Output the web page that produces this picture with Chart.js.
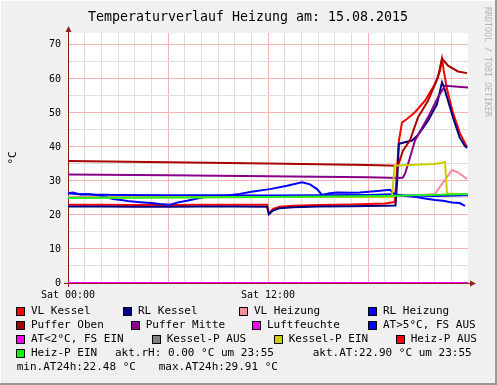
<!DOCTYPE html>
<html>
<head>
<meta charset="utf-8">
<script src="https://cdn.jsdelivr.net/npm/chart.js@4.4.1/dist/chart.umd.min.js"></script>
<style>
  html, body { margin: 0; padding: 0; background: #f0f0f0; }
  canvas { display: block; }
</style>
</head>
<body>
<canvas id="heizung" width="497" height="385"></canvas>
<script>
// Stunden ab Sat 00:00, Werte in °C
const vlKesselHours = [0, 2, 4, 6, 8, 10, 11.95, 12.05, 12.3, 12.7, 13.5, 15, 17, 19, 19.6, 19.7, 19.8, 19.86, 20.04, 20.34, 20.82, 21.42, 22.02, 22.32, 22.44, 22.56, 22.74, 23.1, 23.52, 23.94];
const vlKesselValues = [23.0, 23.0, 22.9, 22.9, 23.0, 23.0, 23.0, 20.5, 21.8, 22.4, 22.7, 22.9, 23.1, 23.4, 23.8, 30, 38, 42, 47.2, 48.2, 50.2, 53.6, 58.5, 62.4, 65.9, 62, 57, 50, 44, 40];

const rlKesselHours = [0, 2, 4, 6, 8, 10, 11.95, 12.05, 12.3, 12.7, 13.5, 15, 17, 19, 19.65, 19.75, 19.85, 20.22, 20.64, 21.0, 21.6, 22.14, 22.44, 22.56, 22.74, 23.1, 23.5, 23.8, 23.94];
const rlKesselValues = [22.5, 22.5, 22.4, 22.4, 22.5, 22.5, 22.4, 20.2, 21.3, 22.0, 22.3, 22.5, 22.6, 22.7, 22.8, 30, 40.9, 41.4, 41.9, 43.5, 47.7, 52.6, 59.0, 57.5, 54.6, 48.7, 42.8, 40.4, 39.7];

const vlHeizungHours = [0, 6, 12, 18, 21, 22.02, 22.5, 23.04, 23.4, 23.94];
const vlHeizungValues = [25.3, 25.3, 25.4, 25.5, 25.8, 26.2, 29.5, 33.2, 32.5, 30.6];

const rlHeizungHours = [0, 0.5, 1, 3, 6, 9, 12, 15, 18, 19.5, 20, 22, 24];
const rlHeizungValues = [26.4, 26.2, 26.0, 25.9, 25.8, 25.8, 25.7, 25.8, 25.9, 26.1, 25.8, 25.6, 25.8];

const pufferObenHours = [0, 6, 12, 18, 19.8, 20.1, 20.52, 21.0, 21.6, 22.2, 22.44, 22.8, 23.4, 23.94];
const pufferObenValues = [35.9, 35.5, 35.1, 34.7, 34.5, 38.9, 42.0, 48.7, 53.6, 60.5, 66.0, 63.9, 62.2, 61.7];

const pufferMitteHours = [0, 6, 12, 18, 19.9, 20.1, 20.22, 20.52, 20.82, 21.0, 21.6, 22.2, 22.62, 23.22, 24];
const pufferMitteValues = [31.9, 31.7, 31.4, 31.1, 30.9, 31.0, 32.1, 36.9, 41.9, 43.5, 48.7, 54.6, 58.0, 57.8, 57.5];

const luftfeuchteHours = [0, 24];
const luftfeuchteValues = [0, 0];

const atHours = [0, 0.3, 0.72, 1.2, 1.92, 2.7, 3.2, 3.72, 4.5, 5.0, 5.52, 6.12, 6.6, 7.14, 8.1, 8.8, 9.54, 10.3, 11.1, 12.12, 13.14, 14.04, 14.52, 14.94, 15.24, 15.7, 16.14, 17.0, 17.52, 18.2, 18.72, 19.32, 19.62, 20.3, 21.0, 21.5, 22.02, 22.5, 23.04, 23.5, 23.82];
const atValues = [26.4, 26.6, 26.0, 26.2, 25.7, 24.7, 24.4, 24.0, 23.7, 23.5, 23.2, 23.0, 23.7, 24.2, 25.2, 25.4, 25.7, 26.2, 26.9, 27.6, 28.6, 29.6, 29.0, 27.6, 25.9, 26.4, 26.6, 26.5, 26.6, 26.9, 27.1, 27.4, 26.0, 25.6, 25.2, 24.8, 24.4, 24.2, 23.7, 23.5, 22.7];

const kesselPEinHours = [0, 12, 19.44, 19.6, 20.5, 22.0, 22.62, 22.74, 23.94];
const kesselPEinValues = [25.1, 25.3, 25.3, 34.5, 34.7, 35.0, 35.5, 26.3, 26.1];

const heizPEinHours = [0, 12, 19, 24];
const heizPEinValues = [25.0, 25.3, 25.6, 26.2];

// Legende (rrdtool-Stil)
const legendLabels = [
  ['VL Kessel', 'RL Kessel', 'VL Heizung', 'RL Heizung'],
  ['Puffer Oben', 'Puffer Mitte', 'Luftfeuchte', 'AT>5°C, FS AUS'],
  ['AT<2°C, FS EIN', 'Kessel-P AUS', 'Kessel-P EIN', 'Heiz-P AUS'],
  ['Heiz-P EIN']
];
const legendColors = [
  ['#ff0000', '#000080', '#ff8c9e', '#0000ff'],
  ['#aa0000', '#880088', '#ff00ff', '#0000ff'],
  ['#ff00ff', '#808080', '#cccc00', '#ff0000'],
  ['#00ff00']
];
const commentLines = [
  ['akt.rH: 0.00 °C um 23:55', 'akt.AT:22.90 °C um 23:55'],
  ['min.AT24h:22.48 °C', 'max.AT24h:29.91 °C']
];

const title = 'Temperaturverlauf Heizung am: 15.08.2015';
const watermark = 'RRDTOOL / TOBI OETIKER';
const xTickLabels = { 0: 'Sat 00:00', 12: 'Sat 12:00' };

const mono = "'DejaVu Sans Mono', monospace";

function pts(hours, values) {
  return hours.map((h, i) => ({ x: h, y: values[i] }));
}

const series = [
  { label: 'VL Kessel', color: '#ff0000', data: pts(vlKesselHours, vlKesselValues) },
  { label: 'RL Kessel', color: '#000080', data: pts(rlKesselHours, rlKesselValues) },
  { label: 'VL Heizung', color: '#ff8c9e', data: pts(vlHeizungHours, vlHeizungValues) },
  { label: 'RL Heizung', color: '#0000ff', data: pts(rlHeizungHours, rlHeizungValues) },
  { label: 'Puffer Oben', color: '#aa0000', data: pts(pufferObenHours, pufferObenValues) },
  { label: 'Puffer Mitte', color: '#880088', data: pts(pufferMitteHours, pufferMitteValues) },
  { label: 'Luftfeuchte', color: '#ff00ff', data: pts(luftfeuchteHours, luftfeuchteValues) },
  { label: 'AT', color: '#0000ff', data: pts(atHours, atValues) },
  { label: 'Kessel-P EIN', color: '#cccc00', data: pts(kesselPEinHours, kesselPEinValues) },
  { label: 'Heiz-P EIN', color: '#22ee22', data: pts(heizPEinHours, heizPEinValues) }
];

const datasets = series.map((s, i) => ({
  label: s.label,
  data: s.data,
  borderColor: s.color,
  borderWidth: 2,
  pointRadius: 0,
  tension: 0,
  fill: false,
  order: series.length - i   // spaetere Kurven liegen oben, wie bei rrdtool
}));

const axisColor = '#902020';

const rrdPlugin = {
  id: 'rrd',
  beforeDraw(chart) {
    const ctx = chart.ctx, a = chart.chartArea;
    ctx.save();
    ctx.fillStyle = '#f0f0f0';
    ctx.fillRect(0, 0, chart.width, chart.height);
    ctx.fillStyle = '#ffffff';
    ctx.fillRect(a.left, a.top, a.right - a.left, a.bottom - a.top);
    // 3D-Rahmen
    ctx.fillStyle = '#ffffff';
    ctx.fillRect(0, 0, chart.width, 1);
    ctx.fillRect(0, 0, 1, chart.height);
    ctx.fillStyle = '#9a9a9a';
    ctx.fillRect(chart.width - 2, 0, 2, chart.height);
    ctx.fillRect(0, chart.height - 2, chart.width, 2);
    ctx.restore();
  },
  beforeDatasetsDraw(chart) {
    const ctx = chart.ctx, a = chart.chartArea;
    ctx.save();
    ctx.strokeStyle = axisColor;
    ctx.fillStyle = axisColor;
    ctx.lineWidth = 1;
    ctx.beginPath();
    ctx.moveTo(a.left - 4, a.bottom + 0.5);
    ctx.lineTo(a.right + 3, a.bottom + 0.5);
    ctx.moveTo(a.left + 0.5, a.bottom + 4);
    ctx.lineTo(a.left + 0.5, a.top - 2);
    ctx.stroke();
    // Pfeile
    ctx.beginPath();
    ctx.moveTo(a.right + 8, a.bottom + 0.5);
    ctx.lineTo(a.right + 2, a.bottom - 2.5);
    ctx.lineTo(a.right + 2, a.bottom + 3.5);
    ctx.closePath();
    ctx.fill();
    ctx.beginPath();
    ctx.moveTo(a.left + 0.5, a.top - 7);
    ctx.lineTo(a.left - 2.5, a.top - 1);
    ctx.lineTo(a.left + 3.5, a.top - 1);
    ctx.closePath();
    ctx.fill();
    ctx.restore();
  },
  afterDraw(chart) {
    const ctx = chart.ctx;
    ctx.save();
    // Titel
    ctx.fillStyle = '#000';
    ctx.font = '13.3px ' + mono;
    ctx.textAlign = 'center';
    ctx.textBaseline = 'alphabetic';
    ctx.fillText(title, 248, 20.5);
    // Wasserzeichen
    ctx.save();
    ctx.translate(487, 7);
    ctx.rotate(Math.PI / 2);
    ctx.font = '8.3px ' + mono;
    ctx.fillStyle = '#b4b4b4';
    ctx.textAlign = 'left';
    ctx.textBaseline = 'middle';
    ctx.fillText(watermark, 0, 0);
    ctx.restore();
    // Legende
    const rowY = [311, 325, 339, 353, 367];
    const colX = [
      [31, 138, 254, 383],
      [31, 145.7, 267, 383],
      [31, 166.7, 288.7, 410.7],
      [31]
    ];
    ctx.font = '11px ' + mono;
    ctx.textAlign = 'left';
    ctx.textBaseline = 'middle';
    legendLabels.forEach((row, r) => {
      row.forEach((label, c) => {
        const tx = colX[r][c], y = rowY[r];
        const bx = Math.round(tx - 15);
        const by = Math.round(y - 4.5);
        ctx.fillStyle = legendColors[r][c];
        ctx.fillRect(bx, by, 8, 8);
        ctx.strokeStyle = '#000';
        ctx.lineWidth = 1;
        ctx.strokeRect(bx + 0.5, by + 0.5, 8, 8);
        ctx.fillStyle = '#000';
        ctx.fillText(label, tx, y);
      });
    });
    ctx.fillText(commentLines[0][0], 115, rowY[3]);
    ctx.fillText(commentLines[0][1], 312.7, rowY[3]);
    ctx.fillText(commentLines[1][0], 16.7, rowY[4]);
    ctx.fillText(commentLines[1][1], 158.7, rowY[4]);
    ctx.restore();
  }
};

new Chart(document.getElementById('heizung'), {
  type: 'line',
  data: { datasets: datasets },
  options: {
    responsive: false,
    animation: false,
    events: [],
    layout: { padding: { left: 0, top: 33, right: 29, bottom: 0 } },
    plugins: { legend: { display: false }, tooltip: { enabled: false } },
    scales: {
      x: {
        type: 'linear',
        min: 0,
        max: 24,
        afterFit: s => { s.height = 102; },
        border: { display: false },
        grid: {
          drawTicks: false,
          color: c => {
            const v = c.tick ? c.tick.value : 0;
            if (v === 0 || v === 24) return 'rgba(0,0,0,0)';
            return v % 6 === 0 ? '#f2b4b4' : '#dedede';
          }
        },
        ticks: {
          stepSize: 1,
          autoSkip: false,
          maxRotation: 0,
          padding: 6,
          color: '#000',
          font: { family: mono, size: 10 },
          callback: v => xTickLabels[v] || ''
        }
      },
      y: {
        min: 0,
        max: 73.5,
        afterFit: s => { s.width = 68; },
        border: { display: false },
        grid: {
          drawTicks: false,
          color: c => {
            const v = c.tick ? c.tick.value : 0;
            if (v === 0) return 'rgba(0,0,0,0)';
            return v % 10 === 0 ? '#f2b4b4' : '#dedede';
          }
        },
        ticks: {
          stepSize: 5,
          includeBounds: false,
          padding: 7,
          color: '#000',
          font: { family: mono, size: 10 },
          callback: v => (v % 10 === 0 ? String(v) : '')
        },
        title: {
          display: true,
          text: '°C',
          color: '#000',
          font: { family: mono, size: 11 },
          padding: { top: 7, bottom: 0 }
        }
      }
    }
  },
  plugins: [rrdPlugin]
});
</script>
</body>
</html>
